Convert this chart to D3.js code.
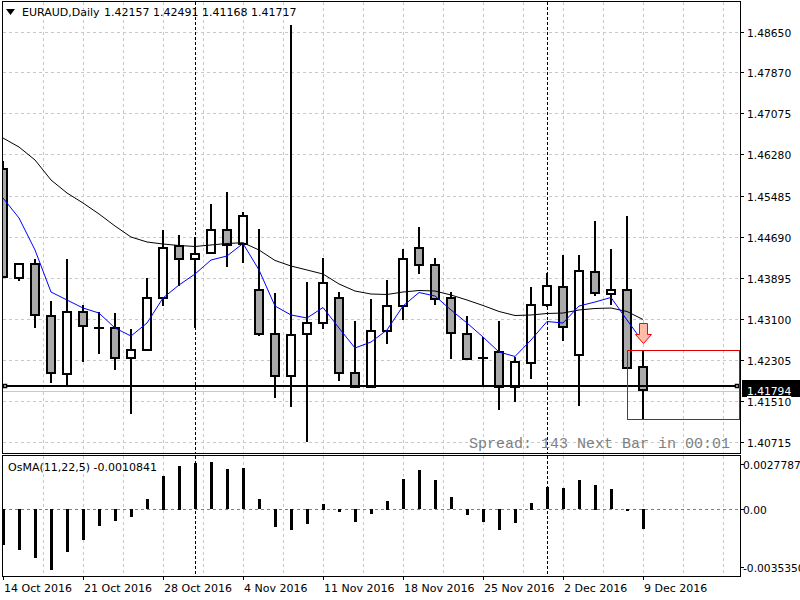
<!DOCTYPE html>
<html>
<head>
<meta charset="utf-8">
<script src="https://cdn.jsdelivr.net/npm/d3@7"></script>
<style>
  body { margin: 0; background: #fff; }
  svg { display: block; font-family: "DejaVu Sans", sans-serif; }
</style>
</head>
<body>
<div id="chart"></div>
<script>
// EURAUD daily, 14 Oct 2016 .. 9 Dec 2016 (one entry per trading day)
const symbol = 'EURAUD,Daily';
const lastQuote = ['1.42157', '1.42491', '1.41168', '1.41717'];

const opens = [1.45993,1.43883,1.44154,1.43148,1.42025,1.43225,1.42927,1.42915,1.42335,1.42501,
  1.43496,1.44514,1.44251,1.44367,1.44818,1.44541,1.43651,1.42799,1.41986,1.42799,
  1.43012,1.43496,1.42045,1.41785,1.42857,1.43341,1.44464,1.44135,1.43496,1.42799,
  1.42346,1.42451,1.41785,1.42238,1.43361,1.43724,1.42399,1.43999,1.43573,1.43651,1.42157];
const highs = [1.46159,1.44160,1.44257,1.43444,1.44257,1.43366,1.43225,1.43211,1.42902,1.43883,
  1.44818,1.44715,1.44688,1.45321,1.45553,1.45166,1.44837,1.43593,1.48785,1.43806,
  1.44270,1.43612,1.43057,1.43477,1.43845,1.44450,1.44870,1.44270,1.43612,1.43148,
  1.42747,1.43051,1.42366,1.43709,1.43992,1.44328,1.44334,1.44992,1.44450,1.45095,1.42491];
const lows = [1.43900,1.43837,1.42927,1.41851,1.41785,1.42257,1.42412,1.42102,1.41251,1.42480,
  1.43353,1.43740,1.42915,1.44348,1.44108,1.44185,1.42772,1.41561,1.41402,1.40709,
  1.42896,1.41901,1.41760,1.41780,1.42606,1.43082,1.43972,1.43372,1.42327,1.42296,
  1.41785,1.41328,1.41483,1.41928,1.43327,1.42675,1.41412,1.43546,1.43366,1.42135,1.41168];
const closes = [1.43908,1.44154,1.43167,1.42045,1.43225,1.42954,1.42927,1.42335,1.42490,1.43496,
  1.44464,1.44251,1.44359,1.44818,1.44528,1.45083,1.42799,1.41986,1.42780,1.43012,
  1.43786,1.42045,1.41785,1.42857,1.43341,1.44257,1.44135,1.43477,1.42819,1.42315,
  1.42346,1.41785,1.42257,1.43361,1.43728,1.42935,1.44024,1.43593,1.43651,1.42141,1.41717];

// moving averages (fast = blue, slow = black)
const maFast = [1.45437,1.45050,1.44431,1.43618,1.43463,1.43308,1.43211,1.42921,1.42766,1.43018,
  1.43502,1.43753,1.43966,1.44237,1.44315,1.44557,1.44044,1.43347,1.43173,1.43115,
  1.43318,1.42921,1.42534,1.42650,1.42883,1.43347,1.43608,1.43541,1.43270,1.43018,
  1.42747,1.42457,1.42370,1.42689,1.43047,1.43018,1.43347,1.43424,1.43512,1.43076,1.42650];
const maSlow = [1.46598,1.46424,1.46173,1.45786,1.45534,1.45340,1.45128,1.44895,1.44682,1.44586,
  1.44547,1.44518,1.44499,1.44528,1.44557,1.44572,1.44431,1.44228,1.44121,1.44044,
  1.43966,1.43773,1.43637,1.43579,1.43570,1.43618,1.43647,1.43637,1.43560,1.43463,
  1.43357,1.43241,1.43163,1.43173,1.43202,1.43211,1.43270,1.43299,1.43308,1.43241,1.43086];

// OsMA(11,22,5) histogram
const osma = [-0.00193,-0.00220,-0.00262,-0.00326,-0.00230,-0.00163,-0.00092,-0.00066,-0.00045,0.00055,
  0.00178,0.00231,0.00246,0.00251,0.00214,0.00219,0.00055,-0.00098,-0.00114,-0.00082,
  0.00030,-0.00018,-0.00071,-0.00027,0.00046,0.00161,0.00208,0.00155,0.00065,-0.00034,
  -0.00071,-0.00110,-0.00076,0.00035,0.00118,0.00113,0.00155,0.00130,0.00108,-0.00009,-0.0010841];
const osmaMax = 0.0027787;
const osmaMin = -0.003535;

const priceTicks = [1.48650,1.47870,1.47075,1.46280,1.45485,1.44690,1.43895,1.43100,1.42305,1.41510,1.40715];
const dateIdx = [0,5,10,15,20,25,30,35,40];
const dateLabels = ['14 Oct 2016','21 Oct 2016','28 Oct 2016','4 Nov 2016','11 Nov 2016',
  '18 Nov 2016','25 Nov 2016','2 Dec 2016','9 Dec 2016'];
const separatorIdx = [12, 34];
const hLinePrice = 1.41794;
const bidPrice = 1.41717;
const boxIdx = [39, 46];
const boxPrice = [1.42491, 1.41168];

const W = 800, H = 600;
const left = 3, right = 740, mainTop = 2, mainBottom = 453, subTop = 456, subBottom = 576;

const svg = d3.select('#chart').append('svg').attr('width', W).attr('height', H);

const x = d3.scaleLinear().domain([0, 40]).range([3, 643]);
const y = d3.scaleLinear().domain([1.40715, 1.4865]).range([442, 32]);
const yo = d3.scaleLinear().domain([osmaMin, osmaMax]).range([subBottom, subTop + 1]);

svg.append('clipPath').attr('id', 'clipMain')
  .append('rect').attr('x', left).attr('y', mainTop).attr('width', right - left).attr('height', mainBottom - mainTop);
svg.append('clipPath').attr('id', 'clipSub')
  .append('rect').attr('x', left).attr('y', subTop).attr('width', right - left).attr('height', subBottom - subTop);

const main = svg.append('g').attr('clip-path', 'url(#clipMain)');
const sub = svg.append('g').attr('clip-path', 'url(#clipSub)');

// Grid
const gridX = d3.range(2.5, 46, 2.5).map(i => Math.round(x(i)) + 0.5).filter(v => v < right);
const gridColor = '#c8c8c8';
[[main, mainTop, mainBottom], [sub, subTop, subBottom]].forEach(([g, t, b]) => {
  g.selectAll('.vgrid').data(gridX).enter().append('line')
    .attr('x1', d => d).attr('x2', d => d).attr('y1', t).attr('y2', b)
    .attr('stroke', gridColor).attr('stroke-dasharray', '3,3');
});
main.selectAll('.hgrid').data(priceTicks).enter().append('line')
  .attr('x1', left).attr('x2', right)
  .attr('y1', d => Math.round(y(d)) + 0.5).attr('y2', d => Math.round(y(d)) + 0.5)
  .attr('stroke', gridColor).attr('stroke-dasharray', '3,3');
sub.append('line')
  .attr('x1', left).attr('x2', right)
  .attr('y1', Math.round(yo(0)) + 0.5).attr('y2', Math.round(yo(0)) + 0.5)
  .attr('stroke', '#808080').attr('stroke-dasharray', '3,3');

// Period separators
[[main, mainTop, mainBottom], [sub, subTop, subBottom]].forEach(([g, t, b]) => {
  g.selectAll('.sep').data(separatorIdx).enter().append('line')
    .attr('x1', d => x(d) + 0.5).attr('x2', d => x(d) + 0.5).attr('y1', t).attr('y2', b)
    .attr('stroke', '#000').attr('stroke-dasharray', '3,2');
});

// Spread text
main.append('text')
  .attr('x', 469).attr('y', 448)
  .attr('font-family', '"Liberation Mono", monospace').attr('font-size', 15)
  .attr('fill', '#808080')
  .text('Spread: 143 Next Bar in 00:01');

// bid line
main.append('line')
  .attr('x1', left).attr('x2', right)
  .attr('y1', Math.round(y(bidPrice)) + 1.5).attr('y2', Math.round(y(bidPrice)) + 1.5)
  .attr('stroke', '#c8c8c8');

// Candles
const idx = d3.range(opens.length);
const candles = main.selectAll('.candle').data(idx).enter().append('g');
candles.append('line')
  .attr('x1', i => x(i)).attr('x2', i => x(i))
  .attr('y1', i => Math.round(y(highs[i]))).attr('y2', i => Math.round(y(lows[i])))
  .attr('stroke', '#000').attr('stroke-width', 2);
candles.each(function(i) {
  const g = d3.select(this);
  const top = Math.round(y(Math.max(opens[i], closes[i])));
  const bot = Math.round(y(Math.min(opens[i], closes[i])));
  if (bot - top < 1) {
    g.append('line')
      .attr('x1', x(i) - 5).attr('x2', x(i) + 5).attr('y1', top).attr('y2', top)
      .attr('stroke', '#000').attr('stroke-width', 2);
  } else {
    g.append('rect')
      .attr('x', x(i) - 4).attr('width', 8)
      .attr('y', top).attr('height', bot - top)
      .attr('fill', closes[i] >= opens[i] ? '#fff' : '#a9a9a9')
      .attr('stroke', '#000').attr('stroke-width', 2);
  }
});

// Moving averages
const lineGen = arr => d3.line().x((d, i) => x(i)).y(d => y(d))(arr);
main.append('path').attr('d', lineGen(maSlow))
  .attr('fill', 'none').attr('stroke', '#000').attr('stroke-width', 1);
main.append('path').attr('d', lineGen(maFast))
  .attr('fill', 'none').attr('stroke', '#0000ff').attr('stroke-width', 1);

// Horizontal line object
const hy = Math.round(y(hLinePrice));
main.append('line')
  .attr('x1', left).attr('x2', right).attr('y1', hy).attr('y2', hy)
  .attr('stroke', '#000').attr('stroke-width', 2);
[left + 2, right - 3].forEach(px => {
  main.append('rect')
    .attr('x', px - 1.5).attr('y', hy - 1.5).attr('width', 3).attr('height', 3)
    .attr('fill', '#fff').attr('stroke', '#000').attr('stroke-width', 1.5);
});

// Rectangle object
main.append('rect')
  .attr('x', Math.round(x(boxIdx[0])) + 0.5)
  .attr('y', Math.round(y(boxPrice[0])) + 0.5)
  .attr('width', Math.round(x(boxIdx[1])) - Math.round(x(boxIdx[0])))
  .attr('height', Math.round(y(boxPrice[1])) - Math.round(y(boxPrice[0])))
  .attr('fill', 'none').attr('stroke', '#e00000').attr('stroke-width', 1);

// Sell arrow above last bar
const last = opens.length - 1;
const ax = x(last) + 0.5, ay = Math.round(y(highs[last])) - 6.5;
const grad = svg.append('defs').append('linearGradient').attr('id', 'arrowFill');
grad.append('stop').attr('offset', '0%').attr('stop-color', '#ffc890');
grad.append('stop').attr('offset', '100%').attr('stop-color', '#ffb0c0');
main.append('path')
  .attr('d', `M${ax},${ay} L${ax - 8},${ay - 9} L${ax - 4},${ay - 9} L${ax - 4},${ay - 20} L${ax + 4},${ay - 20} L${ax + 4},${ay - 9} L${ax + 8},${ay - 9} Z`)
  .attr('fill', 'url(#arrowFill)').attr('stroke', '#ff0000').attr('stroke-width', 1);

// OsMA bars
sub.selectAll('.bar').data(idx).enter().append('rect')
  .attr('x', i => x(i) - 1).attr('width', 3)
  .attr('y', i => Math.round(Math.min(yo(osma[i]), yo(0))))
  .attr('height', i => Math.max(1, Math.round(Math.abs(yo(osma[i]) - yo(0)))))
  .attr('fill', '#000');

// Frames
svg.append('rect').attr('x', left - 0.5).attr('y', mainTop - 0.5)
  .attr('width', right - left + 1).attr('height', mainBottom - mainTop + 1)
  .attr('fill', 'none').attr('stroke', '#000');
svg.append('rect').attr('x', left - 0.5).attr('y', subTop - 0.5)
  .attr('width', right - left + 1).attr('height', subBottom - subTop + 1)
  .attr('fill', 'none').attr('stroke', '#000');

// Price axis
const axisG = svg.append('g').attr('font-size', 10.7);
axisG.selectAll('.pt').data(priceTicks).enter().append('g').each(function(d) {
  const g = d3.select(this);
  const py = Math.round(y(d)) + 0.5;
  g.append('line').attr('x1', right).attr('x2', right + 4).attr('y1', py).attr('y2', py).attr('stroke', '#000');
  g.append('text').attr('x', 747).attr('y', py + 4).attr('fill', '#000').text(d.toFixed(5));
});
// current price label
axisG.append('rect').attr('x', 742).attr('y', hy - 6).attr('width', 58).attr('height', 17).attr('fill', '#000');
axisG.append('text').attr('x', 747).attr('y', hy + 9).attr('fill', '#fff')
  .attr('text-decoration', 'underline').text(hLinePrice.toFixed(5));

// OsMA axis
const osmaAxis = [[osmaMax, '0.0027787'], [0, '0.00'], [osmaMin, '-0.0035350']];
axisG.selectAll('.ot').data(osmaAxis).enter().append('g').each(function(d) {
  const g = d3.select(this);
  const oy = d[0] === osmaMax ? 464.5 : d[0] === osmaMin ? 567.5 : Math.round(yo(0)) + 0.5;
  g.append('line').attr('x1', right).attr('x2', right + 4).attr('y1', oy).attr('y2', oy).attr('stroke', '#000');
  g.append('text').attr('x', 743).attr('y', oy + 4).attr('fill', '#000').text(d[1]);
});

// Date axis
const dateG = svg.append('g').attr('font-size', 11);
dateG.selectAll('.dt').data(dateIdx).enter().append('g').each(function(d, k) {
  const g = d3.select(this);
  const dx = x(d) + 0.5;
  g.append('line').attr('x1', dx).attr('x2', dx).attr('y1', subBottom).attr('y2', subBottom + 4).attr('stroke', '#000');
  g.append('text').attr('x', x(d) + 1).attr('y', 592).attr('fill', '#000').text(dateLabels[k]);
});

// Title and indicator label
svg.append('path').attr('d', 'M6,9 L15,9 L10.5,15 Z').attr('fill', '#000');
svg.append('text').attr('x', 22).attr('y', 16).attr('font-size', 11).attr('fill', '#000').text(symbol);
svg.append('text').attr('x', 104).attr('y', 16).attr('font-size', 11).attr('fill', '#000').text(lastQuote.join(' '));
svg.append('text').attr('x', 8).attr('y', 471).attr('font-size', 11).attr('fill', '#000')
  .text('OsMA(11,22,5) ' + osma[last].toFixed(7));
</script>
</body>
</html>
